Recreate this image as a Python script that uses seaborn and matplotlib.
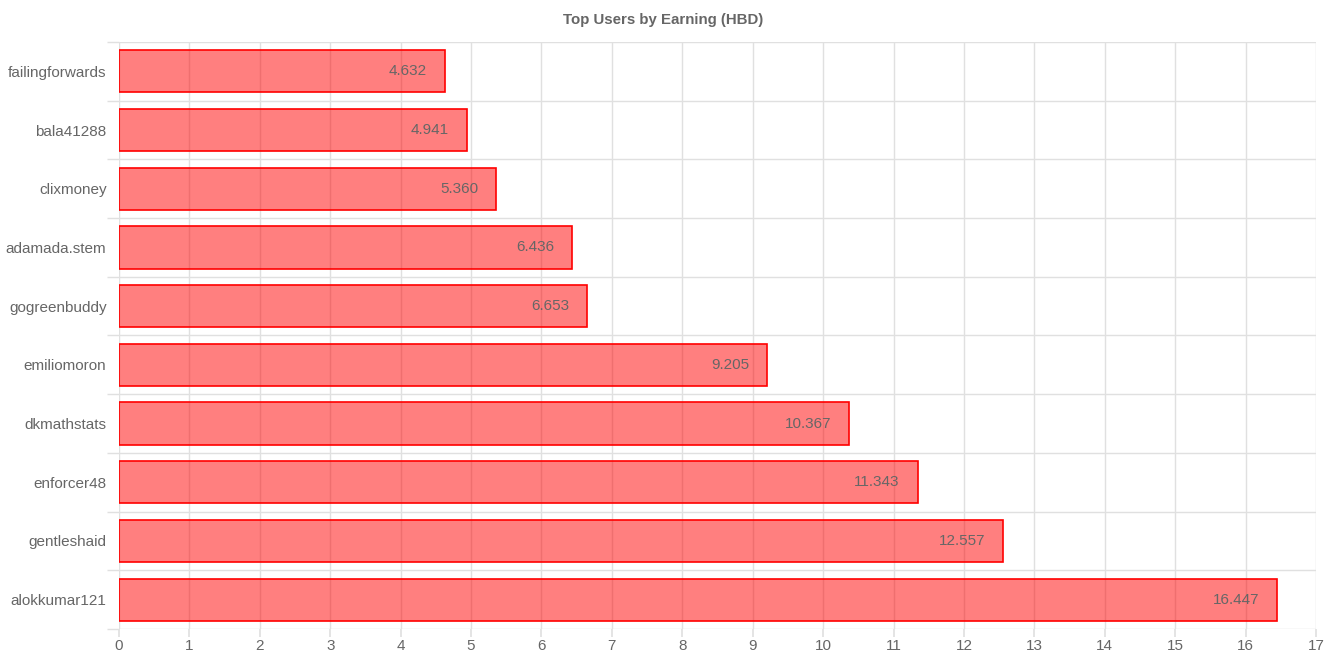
import matplotlib
matplotlib.use("Agg")
import matplotlib.pyplot as plt
import seaborn as sns
import pandas as pd
import numpy as np

users = ["failingforwards", "bala41288", "clixmoney", "adamada.stem", "gogreenbuddy",
         "emiliomoron", "dkmathstats", "enforcer48", "gentleshaid", "alokkumar121"]
earnings = [4.632, 4.941, 5.360, 6.436, 6.653, 9.205, 10.367, 11.343, 12.557, 16.447]
x_ticks = list(range(0, 18))
title = "Top Users by Earning (HBD)"

sns.set_theme(style="white")
plt.rcParams['font.family'] = ['Liberation Sans', 'DejaVu Sans']

df = pd.DataFrame({"user": users, "earning": earnings})

fig = plt.figure(figsize=(13.27, 6.63), dpi=100)
ax = fig.add_axes([119/1327, 1 - 629/663, (1316-119)/1327, (629-42)/663])

sns.barplot(data=df, x="earning", y="user", orient="h", ax=ax,
            color=(1, 0, 0, 0.5), edgecolor="red", linewidth=1.2, width=0.72,
            order=users)
for p in ax.patches:
    p.set_facecolor((1, 0, 0, 0.5))
    p.set_edgecolor((1, 0, 0, 1))
    p.set_zorder(3)

ax.set_xlim(0, 17)
ax.set_ylim(len(users) - 0.5, -0.5)
ax.set_xticks(x_ticks)
ax.set_yticks(np.arange(len(users) + 1) - 0.5, minor=True)
ax.set_axisbelow(True)
gc = "#e0e0e0"
ax.grid(True, axis="x", which="major", color=gc, linewidth=1, zorder=0)
ax.grid(True, axis="y", which="minor", color=gc, linewidth=1, zorder=0)
ax.grid(False, axis="y", which="major")
for s in ax.spines.values():
    s.set_visible(False)
ax.tick_params(axis="x", which="major", length=6, color=gc, labelsize=11,
               labelcolor="#666666", pad=1.5, bottom=True)
ax.tick_params(axis="y", which="minor", length=8.6, color=gc, left=True)
ax.tick_params(axis="y", which="major", length=0, labelsize=11,
               labelcolor="#666666", pad=9)
ax.set_xlabel("")
ax.set_ylabel("")

for i, v in enumerate(earnings):
    ax.annotate(f"{v:.3f}", xy=(v, i), xytext=(-13, 0), textcoords="offset points",
                ha="right", va="center", color="#666666", fontsize=11, zorder=4)

fig.text(0.5, 1 - 20/663, title, ha="center", va="center", fontsize=10.8,
         fontweight="bold", color="#666666")

fig.savefig("out.png", dpi=100)
